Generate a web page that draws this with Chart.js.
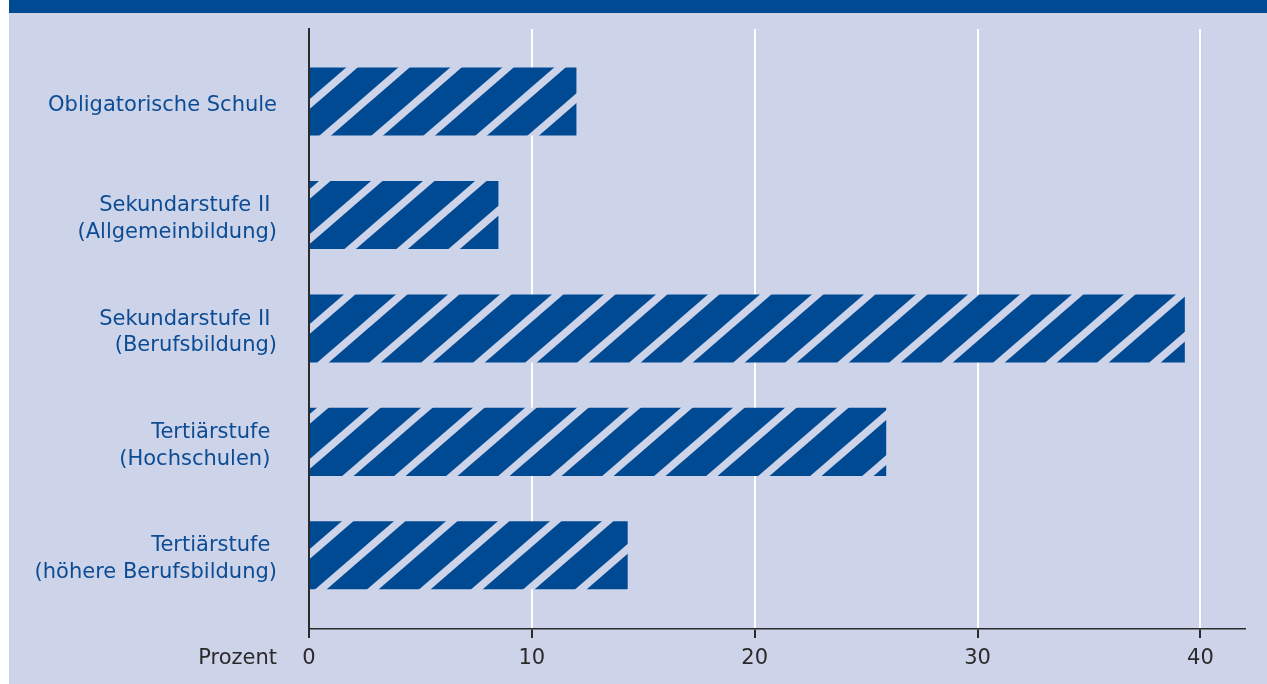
<!DOCTYPE html>
<html>
<head>
<meta charset="utf-8">
<title>Bildungsstufen</title>
<script src="https://cdn.jsdelivr.net/npm/chart.js@4/dist/chart.umd.min.js"></script>
<style>
    body { margin: 0; background: #ffffff; }
    #frame
    {
        position: absolute;
        left: 9px;
        top: 0;
        width: 1258px;
        height: 684px;
        box-sizing: border-box;
        background: #CDD3E8;
        border-top: 13px solid #004A93;
    }
    #box { position: relative; width: 1258px; height: 671px; }
</style>
</head>
<body>
<div id="frame">
    <div id="box"><canvas id="chart"></canvas></div>
</div>
<script>
// Anteile nach höchster abgeschlossener Ausbildung, in Prozent
const levels = [
    ['Obligatorische Schule'],
    ['Sekundarstufe II ', '(Allgemeinbildung)'],
    ['Sekundarstufe II ', '(Berufsbildung)'],
    ['Tertiärstufe ', '(Hochschulen) '],
    ['Tertiärstufe ', '(höhere Berufsbildung)']
];
const shares = [12.0, 8.5, 39.3, 25.9, 14.3];
const xTicks = [0, 10, 20, 30, 40];
const xMax = 42;
const unitLabel = 'Prozent';

const BLUE = '#004A93';
const TEXT_BLUE = '#0C4C94';
const INK = '#2B2B2B';
const FONT = '"DejaVu Sans", Verdana, sans-serif';
const FONT_SIZE = 21;

// diagonal white hatching, 52px wide tile, stripes leaning right
function makeHatch()
{
    let tile = document.createElement('canvas');
    tile.width = 52;
    tile.height = 45;
    let c = tile.getContext('2d');
    c.fillStyle = BLUE;
    c.fillRect(0, 0, 52, 45);
    c.strokeStyle = '#CDD3E8';
    c.lineWidth = 7.4;
    let k = 52 / 45;
    for (let off of [-52, 0, 52, 104])
    {
        let base = 41.9 + off;
        c.beginPath();
        c.moveTo(base + k * 5, -5);
        c.lineTo(base - k * 50, 50);
        c.stroke();
    }
    return c.createPattern(tile, 'repeat');
}

// unit caption left of the zero tick, on the tick label row
const unitCaption = {
    id: 'unitCaption',
    afterDraw(chart)
    {
        let xs = chart.scales.x;
        let ctx = chart.ctx;
        ctx.save();
        ctx.font = FONT_SIZE + 'px ' + FONT;
        ctx.fillStyle = INK;
        ctx.textAlign = 'right';
        ctx.textBaseline = 'middle';
        let y = xs.top + xs.options.grid.tickLength + xs.options.ticks.padding + FONT_SIZE * 1.2 / 2;
        ctx.fillText(unitLabel, xs.getPixelForValue(0) - 32, y);
        ctx.restore();
    }
};

let points = shares.map((v, i) => ({x: v, y: i}));

new Chart(document.getElementById('chart').getContext('2d'), {
    type: 'bar',
    data: {
        datasets: [{
            data: points,
            backgroundColor: makeHatch(),
            borderWidth: 0,
            categoryPercentage: 1,
            barPercentage: 0.6
        }]
    },
    options: {
        indexAxis: 'y',
        responsive: true,
        maintainAspectRatio: false,
        animation: false,
        layout: { padding: { top: 16, right: 22, bottom: 0, left: 0 } },
        plugins: { legend: { display: false }, tooltip: { enabled: false } },
        scales: {
            x: {
                type: 'linear',
                min: 0,
                max: xMax,
                z: 1,
                afterBuildTicks: (scale) => { scale.ticks = xTicks.map(v => ({value: v})); },
                afterFit: (scale) => { scale.height = 55; },
                grid: {
                    color: (ctx) => ctx.tick && ctx.tick.value === 0 ? 'rgba(0,0,0,0)' : '#ffffff',
                    lineWidth: 2,
                    tickColor: INK,
                    tickLength: 9
                },
                border: { display: true, color: INK, width: 1.5 },
                ticks: {
                    color: INK,
                    padding: 8,
                    font: { family: FONT, size: FONT_SIZE }
                }
            },
            y: {
                type: 'linear',
                reverse: true,
                offset: false,
                min: -0.64,
                max: 4.65,
                z: 1,
                afterBuildTicks: (scale) => { scale.ticks = levels.map((l, i) => ({value: i})); },
                afterFit: (scale) =>
                {
                    scale.width = 300;
                    scale.paddingTop = 0;
                    scale.paddingBottom = 0;
                },
                grid: { display: false, drawTicks: false, offset: false },
                border: { display: true, color: INK, width: 2 },
                ticks: {
                    color: TEXT_BLUE,
                    padding: 32,
                    labelOffset: 4,
                    crossAlign: 'near',
                    font: { family: FONT, size: FONT_SIZE, lineHeight: 1.27 },
                    callback: (value) => levels[value]
                }
            }
        }
    },
    plugins: [unitCaption]
});
</script>
</body>
</html>
